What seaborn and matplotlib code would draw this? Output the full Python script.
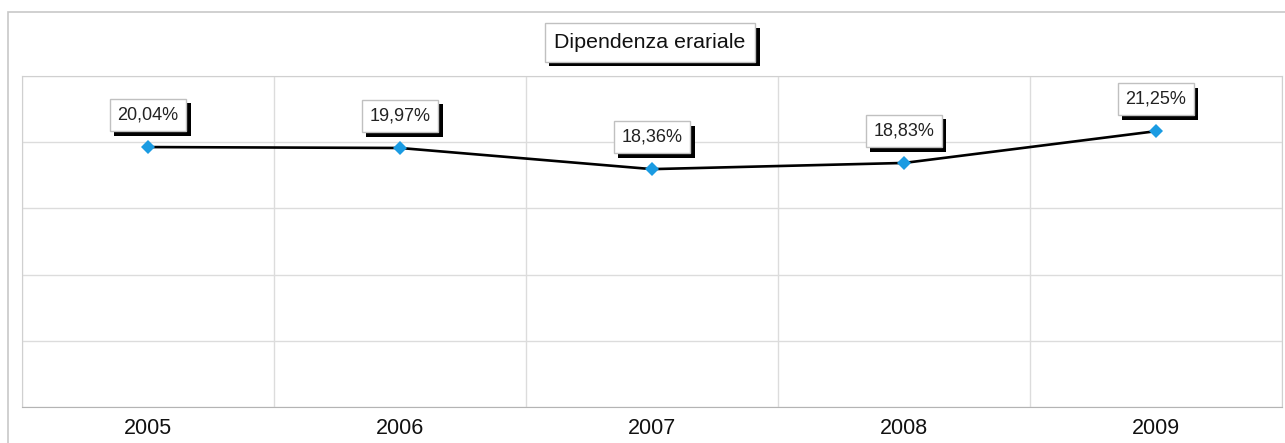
import numpy as np
import pandas as pd
import matplotlib
matplotlib.use("Agg")
import matplotlib.pyplot as plt
import matplotlib.patheffects as pe
from matplotlib.patches import Rectangle
import seaborn as sns

# Data
years = ["2005", "2006", "2007", "2008", "2009"]
values = [20.04, 19.97, 18.36, 18.83, 21.25]
labels = ["20,04%", "19,97%", "18,36%", "18,83%", "21,25%"]

df = pd.DataFrame({"anno": years, "dipendenza": values})

sns.set_style("white")
plt.rcParams["font.family"] = ["Liberation Sans", "DejaVu Sans"]

fig = plt.figure(figsize=(12.85, 4.43), dpi=100)
ax = fig.add_axes([22 / 1285, 1 - 407 / 443, 1260 / 1285, 331 / 443])

grid_col = "#dcdcdc"
shadow = [pe.SimplePatchShadow(offset=(3.2, -3.2), shadow_rgbFace="black", alpha=1.0), pe.Normal()]

sns.lineplot(data=df, x="anno", y="dipendenza", ax=ax, color="black", linewidth=1.9,
             marker="D", markersize=7.5, markerfacecolor="#1a9be2", markeredgewidth=0,
             sort=False)

# value labels in boxes with drop shadow
for i, (v, lab) in enumerate(zip(values, labels)):
    ann = ax.annotate(lab, (i, v), xytext=(0, 23), textcoords="offset points",
                      ha="center", va="center", fontsize=13, color="#222222",
                      bbox=dict(boxstyle="square,pad=0.42", fc="white", ec="#c0c0c0", lw=1))
    ann.get_bbox_patch().set_path_effects(shadow)

# value axis: slightly offset range, five even bands
ymin, ymax = 0.25, 25.45
ax.set_xlim(-0.5, 4.5)
ax.set_ylim(ymin, ymax)
ax.set_yticks(np.linspace(ymin, ymax, 6))
ax.set_yticklabels([])
ax.set_xticks([-0.5, 0.5, 1.5, 2.5, 3.5, 4.5], minor=True)
ax.grid(True, which="major", axis="y", color=grid_col, lw=1)
ax.grid(True, which="minor", axis="x", color=grid_col, lw=1)
ax.tick_params(axis="y", length=0)
ax.tick_params(axis="x", which="major", length=0, pad=8, labelsize=15.5, labelcolor="#111111")
ax.tick_params(axis="x", which="minor", length=12, width=1, color=grid_col, direction="out")
ax.set_xlabel("")
ax.set_ylabel("")
for side in ["left", "right", "top"]:
    ax.spines[side].set_color("#d0d0d0")
ax.spines["bottom"].set_color("#b4b4b4")

# title box
t = fig.text(650 / 1285, 1 - 42.5 / 443, "Dipendenza erariale", ha="center", va="center",
             fontsize=15.4, color="#111111",
             bbox=dict(boxstyle="square,pad=0.45", fc="white", ec="#c0c0c0", lw=1))
t.get_bbox_patch().set_path_effects(shadow)

# outer chart frame
fig.add_artist(Rectangle((8 / 1285, -0.1), 1.2, 0.1 + 1 - 12 / 443, transform=fig.transFigure,
                         fill=False, edgecolor="#c8c8c8", lw=1.2))

fig.savefig("out.png", dpi=100)
